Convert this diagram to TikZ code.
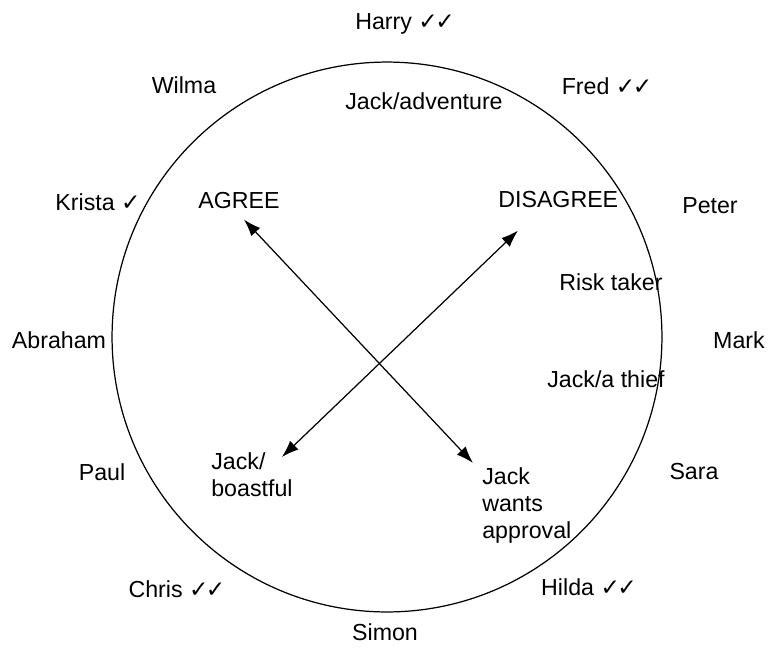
\documentclass[tikz,border=0pt]{standalone}
\usepackage{fontspec}
\setmainfont{Liberation Sans}
\newfontfamily\tickfont{DejaVu Sans Bold}
\usetikzlibrary{arrows.meta}
\newcommand{\tk}{{\tickfont\char"2713}}
\newcommand{\tktk}{{\tickfont\char"2713\kern-1.5pt\char"2713}}
\begin{document}
\begin{tikzpicture}[x=0.02cm,y=-0.02cm,
  lbl/.style={inner sep=0pt,font=\fontsize{13.2}{15.5}\selectfont},
  dbl/.style={{Latex[length=3.4mm,width=2.4mm]}-{Latex[length=3.4mm,width=2.4mm]},line width=0.7pt}]
\useasboundingbox (0,0) rectangle (775,667);
\draw[line width=0.7pt] (387,337) circle[radius=5.5cm];

% names round the circle
\node[lbl,anchor=base] (harry) at (405,29) {Harry \tktk};
\node[lbl,anchor=base] (wilma) at (184,93) {Wilma};
\node[lbl,anchor=base] (fred) at (607,94) {Fred \tktk};
\node[lbl,anchor=base] (krista) at (98,210) {Krista \tk};
\node[lbl,anchor=base] (peter) at (710,213) {Peter};
\node[lbl,anchor=base] (abraham) at (59,348) {Abraham};
\node[lbl,anchor=base] (mark) at (739,348) {Mark};
\node[lbl,anchor=base] (paul) at (102,480) {Paul};
\node[lbl,anchor=base] (sara) at (694,479) {Sara};
\node[lbl,anchor=base] (chris) at (177,597) {Chris \tktk};
\node[lbl,anchor=base] (hilda) at (589,595) {Hilda \tktk};
\node[lbl,anchor=base] (simon) at (385,640) {Simon};

% inside
\node[lbl,anchor=base] (adventure) at (424,109) {Jack/adventure};
\node[lbl,anchor=base] (agree) at (239,208) {AGREE};
\node[lbl,anchor=base west] (disagree) at (498,207) {DISAGREE};
\node[lbl,anchor=base] (risk) at (611,290) {Risk taker};
\node[lbl,anchor=base] (thief) at (606,387) {Jack/a thief};
\node[lbl,anchor=north west,align=left] (boastful) at (211,452) {Jack/\\boastful};
\node[lbl,anchor=north west,align=left] (approval) at (482,467) {Jack\\wants\\approval};

\draw[dbl] ([shift={(5,11)}]agree.south) -- ([shift={(-9,-4)}]approval.north west);
\draw[dbl] ([shift={(20,23)}]disagree.south west) -- ([shift={(-11,5)}]boastful.north east);
\end{tikzpicture}
\end{document}
